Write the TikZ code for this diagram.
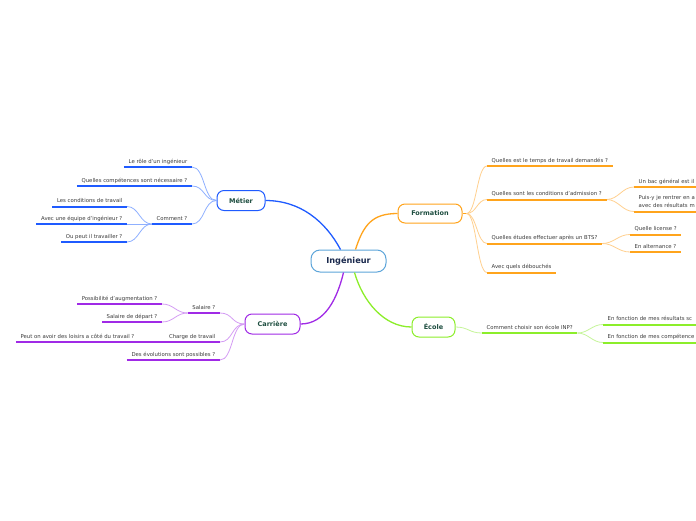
\documentclass[tikz,border=0pt]{standalone}
\usepackage{fontspec}
\setmainfont{DejaVu Sans}
\usepackage{tikz}
\usetikzlibrary{positioning}
\usepackage{xcolor}
\definecolor{blueM}{HTML}{1F5BFF}
\definecolor{blueL}{HTML}{8FB0FF}
\definecolor{orgM}{HTML}{FFA41C}
\definecolor{orgL}{HTML}{FFD08F}
\definecolor{purM}{HTML}{A02AE6}
\definecolor{purL}{HTML}{D49CF4}
\definecolor{grnM}{HTML}{8CEE2A}
\definecolor{grnL}{HTML}{C6F59A}
\definecolor{ctrB}{HTML}{5DA5DA}
\definecolor{ctrT}{HTML}{1B2A4E}
\definecolor{lblG}{HTML}{1D4D3F}
\definecolor{txtD}{HTML}{3A3A3A}

\begin{document}
\begin{tikzpicture}[
    x=1pt, y=-1pt,
    txt/.style={font=\fontsize{5.35}{8}\selectfont, text=txtD, inner xsep=4.5pt, inner ysep=2.6pt, text depth=1.2pt},
    lblL/.style={txt, anchor=south east},
    lblR/.style={txt, anchor=south west},
    Bbox/.style={draw, fill=white, rounded corners=7pt, line width=1pt, inner sep=0pt, minimum height=20pt, text=lblG, font=\bfseries\fontsize{6.5}{8}\selectfont},
    Cbox/.style={Bbox, draw=ctrB, minimum width=75pt, minimum height=22pt, rounded corners=9pt, text=ctrT, font=\bfseries\fontsize{8.2}{10}\selectfont},
    trunk/.style={line width=1.3pt},
    ulB/.style={line width=2pt, blueM},
    ulO/.style={line width=2pt, orgM},
    ulP/.style={line width=2pt, purM},
    ulG/.style={line width=2pt, grnM},
    twigB/.style={line width=0.8pt, blueL},
    twigO/.style={line width=0.8pt, orgL},
    twigP/.style={line width=0.8pt, purL},
    twigG/.style={line width=0.8pt, grnL},
]
\useasboundingbox (0,0) rectangle (696,520);
\clip (0,0) rectangle (696,520);
\fill[white] (0,0) rectangle (696,520);

% main topic and branches
\node[Cbox] (ing) at (348.5,261) {Ingénieur};
\node[Bbox, draw=blueM, minimum width=48pt] (met) at (241,200.5) {Métier};
\node[Bbox, draw=orgM, minimum width=64pt, minimum height=19pt] (form) at (430,213.5) {Formation};
\node[Bbox, draw=purM, minimum width=55pt] (car) at (272.5,324) {Carrière};
\node[Bbox, draw=grnM, minimum width=43pt] (eco) at (433.5,327) {École};

\draw[trunk, blueM] ([xshift=-8pt]ing.north) .. controls +(-15,-28) and +(35,0) .. (met.east);
\draw[trunk, orgM] ([xshift=7pt]ing.north) .. controls +(8,-25) and +(-25,0) .. (form.west);
\draw[trunk, purM] ([xshift=-5pt]ing.south) .. controls +(-6,25) and +(25,0) .. (car.east);
\draw[trunk, grnM] ([xshift=6pt]ing.south) .. controls +(8,28) and +(-28,0) .. (eco.west);

% Metier
\node[lblL] (m1) at (192,167) {Le rôle d'un ingénieur};
\node[lblL] (m2) at (192,186) {Quelles compétences sont nécessaire ?};
\node[lblL] (m3) at (192,224) {Comment ?};
\node[lblL] (m31) at (127,206.5) {Les conditions de travail};
\node[lblL] (m32) at (127,224) {Avec une équipe d'ingénieur ?};
\node[lblL] (m33) at (127,242) {Ou peut il travailler ?};
\foreach \n in {m1,m2,m3}
  \draw[twigB] (met.west) .. controls +(-13,0) and +(13,0) .. (\n.south east);
\foreach \n in {m31,m32,m33}
  \draw[twigB] (m3.south west) .. controls +(-12,0) and +(12,0) .. (\n.south east);
\foreach \n in {m1,m2,m3,m31,m32,m33}
  \draw[ulB] (\n.south west) -- (\n.south east);

% Carriere
\node[lblL] (c1) at (220,313) {Salaire ?};
\node[lblL] (c11) at (162,304) {Possibilité d'augmentation ?};
\node[lblL] (c12) at (162,322) {Salaire de départ ?};
\node[lblL] (c2) at (220,342) {Charge de travail};
\node[lblL] (c21) at (139,342) {Peut on avoir des loisirs a côté du travail ?};
\node[lblL] (c3) at (220,360) {Des évolutions sont possibles ?};
\foreach \n in {c1,c2,c3}
  \draw[twigP] (car.west) .. controls +(-13,0) and +(13,0) .. (\n.south east);
\foreach \n in {c11,c12}
  \draw[twigP] (c1.south west) .. controls +(-12,0) and +(12,0) .. (\n.south east);
\draw[ulP] (c2.south west) -- (c21.south east);
\foreach \n in {c1,c11,c12,c2,c21,c3}
  \draw[ulP] (\n.south west) -- (\n.south east);

% Formation
\coordinate (fo) at ([xshift=4pt]form.east);
\draw[trunk, orgM] (form.east) -- (fo);
\node[lblR] (f1) at (487,166) {Quelles est le temps de travail demandés ?};
\node[lblR] (f2) at (487,199.5) {Quelles sont les conditions d'admission ?};
\node[lblR, text width=80pt, align=left] (f21) at (634,187) {Un bac général est il};
\node[lblR, text width=80pt, align=left, text depth=9.2pt] (f22) at (634,211.5) {Puis-y je rentrer en a\\avec des résultats m};
\node[lblR] (f3) at (487,243.5) {Quelles études effectuer après un BTS?};
\node[lblR] (f31) at (630,234.5) {Quelle license ?};
\node[lblR] (f32) at (630,252) {En alternance ?};
\node[lblR] (f4) at (487,272.5) {Avec quels débouchés};
\foreach \n in {f1,f2,f3,f4}
  \draw[twigO] (fo) .. controls +(10,0) and +(-10,0) .. (\n.south west);
\foreach \n in {f21,f22}
  \draw[twigO] (f2.south east) .. controls +(12,0) and +(-12,0) .. (\n.south west);
\foreach \n in {f31,f32}
  \draw[twigO] (f3.south east) .. controls +(12,0) and +(-12,0) .. (\n.south west);
\foreach \n in {f1,f2,f21,f22,f3,f31,f32,f4}
  \draw[ulO] (\n.south west) -- (\n.south east);

% Ecole
\node[lblR] (e1) at (482,333) {Comment choisir son école INP?};
\node[lblR, text width=100pt, align=left] (e11) at (603,324.5) {En fonction de mes résultats sc};
\node[lblR, text width=100pt, align=left] (e12) at (603,342.5) {En fonction de mes compétence};
\draw[twigG] (eco.east) .. controls +(13,0) and +(-13,0) .. (e1.south west);
\foreach \n in {e11,e12}
  \draw[twigG] (e1.south east) .. controls +(11,0) and +(-11,0) .. (\n.south west);
\foreach \n in {e1,e11,e12}
  \draw[ulG] (\n.south west) -- (\n.south east);
\end{tikzpicture}
\end{document}
